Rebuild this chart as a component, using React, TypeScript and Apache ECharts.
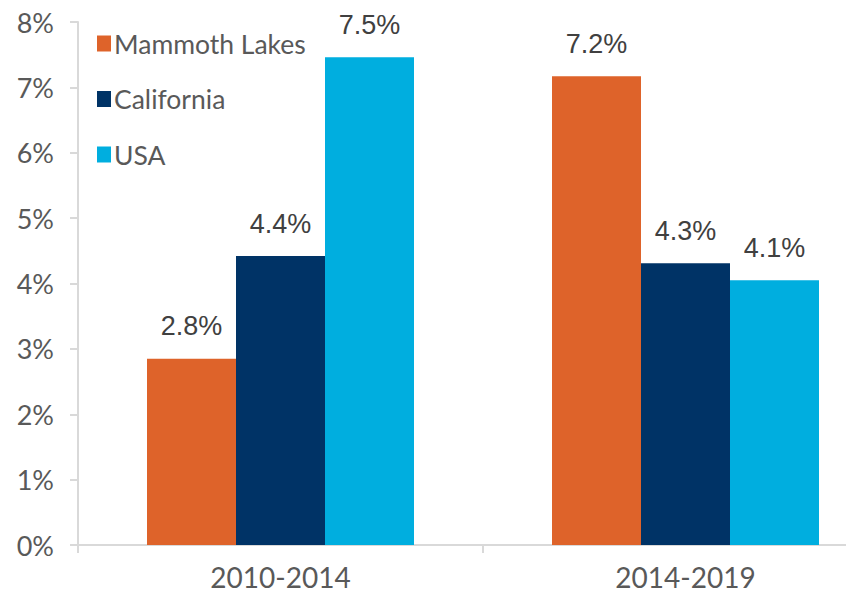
import React, { useEffect, useRef } from "react";
import * as echarts from "echarts";

const categories = ["2010-2014", "2014-2019"];
const seriesNames = ["Mammoth Lakes", "California", "USA"];
const mammothLakes = [2.85, 7.17];
const california = [4.42, 4.31];
const usa = [7.46, 4.05];
const labelTexts = [
  ["2.8%", "7.2%"],
  ["4.4%", "4.3%"],
  ["7.5%", "4.1%"],
];
const colors = ["#DE632A", "#003366", "#00AEDF"];
const yTicks = [0, 1, 2, 3, 4, 5, 6, 7, 8];

export default function App() {
  const ref = useRef<HTMLDivElement>(null);
  useEffect(() => {
    document.body.style.margin = "0";
    const chart = echarts.init(ref.current!, null, { renderer: "svg" });
    const data = [mammothLakes, california, usa];
    chart.setOption({
      animation: false,
      legend: {
        orient: "vertical",
        left: 92,
        top: 25,
        itemWidth: 14,
        itemHeight: 16,
        itemGap: 28.5,
        icon: "rect",
        textStyle: { fontFamily: "Lato", fontSize: 26.5, color: "#595959", padding: [0, 0, 0, -2] },
        data: seriesNames,
      },
      grid: { left: 78, top: 22, right: -42, bottom: 54, containLabel: false, outerBoundsMode: "none" },
      xAxis: {
        type: "category",
        data: categories,
        axisLine: { lineStyle: { color: "#d9d9d9", width: 2 } },
        axisTick: { show: true, length: 8, lineStyle: { color: "#d9d9d9", width: 2 } },
        axisLabel: { fontFamily: "Lato", fontSize: 28, color: "#595959", margin: 18 },
      },
      yAxis: {
        type: "value",
        min: yTicks[0],
        max: yTicks[yTicks.length - 1],
        interval: 1,
        axisLine: { show: true, lineStyle: { color: "#d9d9d9", width: 2 } },
        axisTick: { show: true, length: 8, lineStyle: { color: "#d9d9d9", width: 2 } },
        splitLine: { show: false },
        axisLabel: {
          fontFamily: "Lato",
          fontSize: 27,
          color: "#595959",
          margin: 24,
          formatter: (v: number) => `${v}%`,
        },
      },
      series: seriesNames.map((name, i) => ({
        name,
        type: "bar",
        data: data[i],
        barWidth: 89,
        barGap: "0%",
        itemStyle: { color: colors[i] },
        label: {
          show: true,
          position: "top",
          distance: 19,
          fontFamily: "Liberation Sans",
          fontSize: 27,
          color: "#404040",
          formatter: (p: any) => labelTexts[i][p.dataIndex],
        },
      })),
    });
    return () => chart.dispose();
  }, []);
  return <div ref={ref} style={{ width: 846, height: 599 }} />;
}
